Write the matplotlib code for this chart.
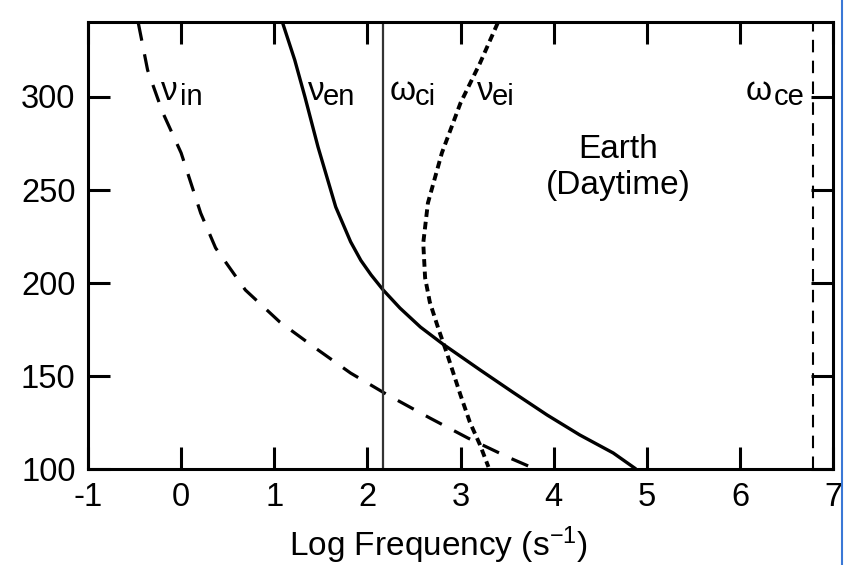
import numpy as np
import matplotlib.pyplot as plt
from matplotlib.lines import Line2D

plt.rcParams['font.family'] = ['Liberation Sans', 'DejaVu Sans']
plt.rcParams['mathtext.fontset'] = 'custom'
plt.rcParams['mathtext.rm'] = 'Liberation Sans'
plt.rcParams['mathtext.default'] = 'regular'
plt.rcParams['lines.scale_dashes'] = False

# =========================
# データ
# =========================
# ion-neutral collision frequency
nu_in_x = [-0.46, -0.36, -0.20, 0.00, 0.21, 0.37, 0.69, 1.06, 1.44, 1.82, 2.22, 2.67, 3.08, 3.53, 3.78]
nu_in_h = [339.5, 314.2, 291.7, 269.7, 237.4, 218.7, 196.1, 178.9, 165.0, 151.5, 139.7, 127.4, 116.6, 105.9, 100.5]

# electron-neutral collision frequency
nu_en_x = [1.09, 1.22, 1.33, 1.47, 1.66, 1.82, 1.93, 2.04, 2.17, 2.35, 2.57, 2.81, 3.21, 3.56, 3.93, 4.28, 4.64, 4.87]
nu_en_h = [339.5, 319.6, 299.7, 272.9, 240.7, 222.0, 212.0, 204.2, 196.1, 186.4, 176.2, 167.1, 153.2, 141.3, 129.0, 118.3, 108.6, 100.5]

# electron-ion collision frequency
nu_ei_x = [3.40, 3.21, 3.00, 2.80, 2.65, 2.60, 2.62, 2.67, 2.76, 2.86, 3.00, 3.10, 3.21, 3.30]
nu_ei_h = [339.5, 318.0, 296.5, 269.7, 242.8, 221.3, 202.6, 189.7, 175.7, 161.2, 139.7, 125.2, 112.9, 101.1]

# gyro frequencies
omega_ci = 2.17
omega_ce = 6.78

x_ticks = [-1, 0, 1, 2, 3, 4, 5, 6, 7]
y_ticks = [100, 150, 200, 250, 300]

# ラベル: (ギリシャ文字, 添字, 文字x, 添字x)
curve_labels = [
    ('ν', 'in', -0.22, -0.01),
    ('ν', 'en', 1.36, 1.52),
    ('ω', 'ci', 2.24, 2.51),
    ('ν', 'ei', 3.18, 3.34),
    ('ω', 'ce', 6.06, 6.36),
]

# =========================
# プロット
# =========================
fig = plt.figure(figsize=(8.46, 5.65), dpi=100)
ax = fig.add_axes([88/846, 1 - 469/565, 745/846, 447/565])

ax.plot(nu_in_x, nu_in_h, color='black', lw=2.3, dashes=(13, 10))
ax.plot(nu_en_x, nu_en_h, color='black', lw=2.4)
ax.plot(nu_ei_x, nu_ei_h, color='black', lw=2.8, dashes=(5.5, 3.5))
ax.axvline(omega_ci, color='#333333', lw=1.6)
ax.axvline(omega_ce, color='black', lw=1.5, dashes=(9, 6))

for greek, sub, gx, sx in curve_labels:
    ax.text(gx, 298.1, greek, fontsize=24, ha='left', va='baseline')
    ax.text(sx, 295.4, sub, fontsize=21, ha='left', va='baseline')

ax.text(4.69, 262, 'Earth\n(Daytime)', fontsize=24, ha='center', va='center',
        linespacing=1.2)

ax.set_xlim(-1, 7)
ax.set_ylim(100, 340)
ax.set_xticks(x_ticks)
ax.set_yticks(y_ticks)
ax.set_xticklabels([str(v) for v in x_ticks])
ax.tick_params(direction='in', length=16, width=2.2, labelsize=23.5,
               top=True, right=True, pad=9)
for s in ax.spines.values():
    s.set_linewidth(2.2)

ax.set_xlabel('Log Frequency (s$^{-1}$)', fontsize=24)
ax.xaxis.set_label_coords(0.47, -0.124)

# 右端の青線
fig.add_artist(Line2D([842/846, 842/846], [0, 1], color='#3a78d6', lw=1.5))

fig.savefig('out.png', dpi=100)
